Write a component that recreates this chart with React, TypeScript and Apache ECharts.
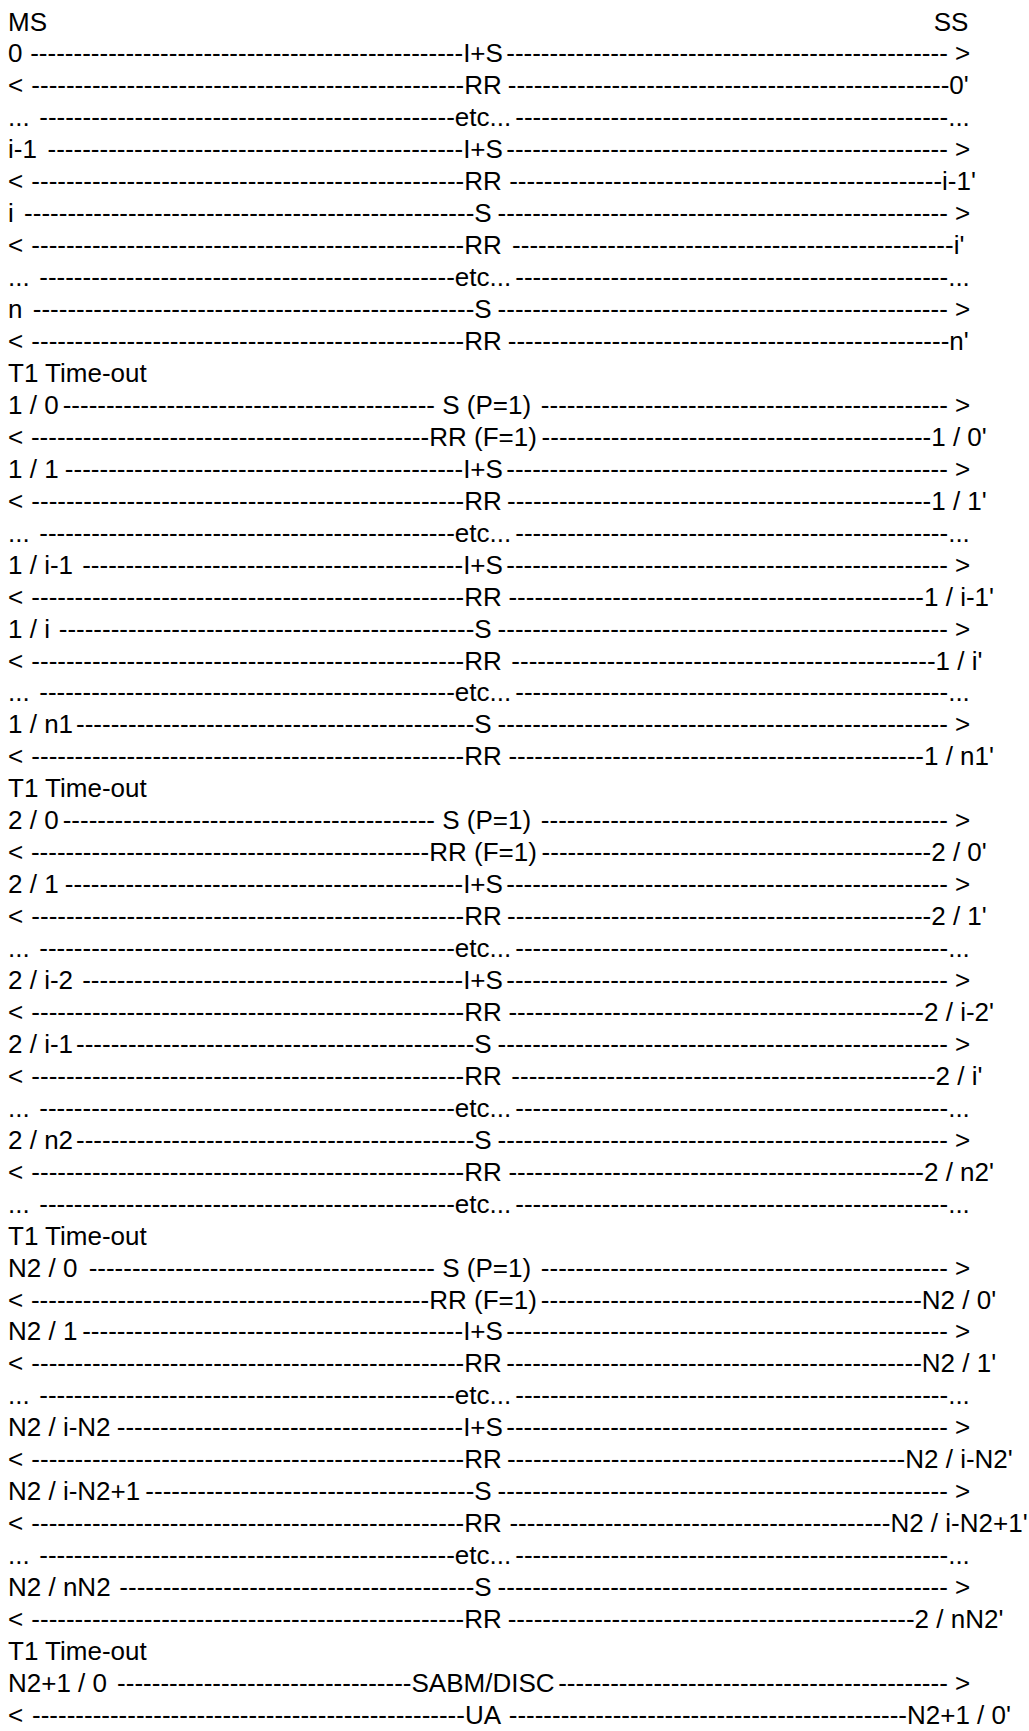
import React, { useEffect, useRef } from "react";
import * as echarts from "echarts";

// Row texts of the sequence diagram (MS on the left, SS on the right)
const leftLabels: string[] = [
  "MS", "0", "<", "...", "i-1", "<", "i", "<", "...", "n", "<",
  "T1 Time-out", "1 / 0", "<", "1 / 1", "<", "...", "1 / i-1", "<", "1 / i", "<", "...", "1 / n1", "<",
  "T1 Time-out", "2 / 0", "<", "2 / 1", "<", "...", "2 / i-2", "<", "2 / i-1", "<", "...", "2 / n2", "<", "...",
  "T1 Time-out", "N2 / 0", "<", "N2 / 1", "<", "...", "N2 / i-N2", "<", "N2 / i-N2+1", "<", "...", "N2 / nN2", "<",
  "T1 Time-out", "N2+1 / 0", "<",
];

const centerLabels: string[] = [
  "", "I+S", "RR", "etc...", "I+S", "RR", "S", "RR", "etc...", "S", "RR",
  "", " S (P=1)", "RR (F=1)", "I+S", "RR", "etc...", "I+S", "RR", "S", "RR", "etc...", "S", "RR",
  "", " S (P=1)", "RR (F=1)", "I+S", "RR", "etc...", "I+S", "RR", "S", "RR", "etc...", "S", "RR", "etc...",
  "", " S (P=1)", "RR (F=1)", "I+S", "RR", "etc...", "I+S", "RR", "S", "RR", "etc...", "S", "RR",
  "", "SABM/DISC", "UA",
];

const rightLabels: string[] = [
  "SS", " >", "0'", "...", " >", "i-1'", " >", "i'", "...", " >", "n'",
  "", " >", "1 / 0'", " >", "1 / 1'", "...", " >", "1 / i-1'", " >", "1 / i'", "...", " >", "1 / n1'",
  "", " >", "2 / 0'", " >", "2 / 1'", "...", " >", "2 / i-2'", " >", "2 / i'", "...", " >", "2 / n2'", "...",
  "", " >", "N2 / 0'", " >", "N2 / 1'", "...", " >", "N2 / i-N2'", " >", "N2 / i-N2+1'", "...", " >", "2 / nN2'",
  "", " >", "N2+1 / 0'",
];

// layout
const FONT_SIZE = 26;
const FONT_FAMILY = "'Liberation Sans', Arial, Helvetica, sans-serif";
const ROW_H = 31.95;
const TOP = 21.5;
const LEFT_X = 8;
const CENTER_X = 483;
const RIGHT_X = 959;
const HEADER_RIGHT_X = 951;
const MIN_GAP = 3;

export default function App() {
  const ref = useRef<HTMLDivElement>(null);
  useEffect(() => {
    const el = ref.current as HTMLDivElement;
    const chart = echarts.init(el, null, { renderer: "svg" });
    const canvas = document.createElement("canvas");
    const ctx = canvas.getContext("2d") as CanvasRenderingContext2D;
    ctx.font = `${FONT_SIZE}px ${FONT_FAMILY}`;
    const w = (s: string) => ctx.measureText(s).width;
    const dashW = w("-");
    const elements: any[] = [];
    const txt = (x: number, y: number, text: string, align: string = "left") => {
      elements.push({
        type: "text",
        x,
        y,
        silent: true,
        style: {
          text,
          fill: "#000",
          fontSize: FONT_SIZE,
          fontFamily: FONT_FAMILY,
          align,
          verticalAlign: "middle",
          textAlign: align,
          textVerticalAlign: "middle",
        },
      });
    };
    // draws a label starting at x; leading spaces shift the visible text
    const label = (x: number, y: number, s: string) => {
      const trimmed = s.replace(/^\s+/, "");
      const lead = s.length - trimmed.length;
      txt(x + (lead ? w(" ".repeat(lead)) : 0), y, trimmed);
    };
    const dashes = (a: number, b: number, y: number) => {
      const n = Math.floor((b - a) / dashW);
      if (n > 0) txt(b - n * dashW, y, "-".repeat(n));
    };

    leftLabels.forEach((left, i) => {
      const y = TOP + i * ROW_H;
      const center = centerLabels[i];
      const right = rightLabels[i];
      if (left) txt(LEFT_X, y, left);
      const leftEnd = LEFT_X + (left ? w(left) : 0);
      if (!center) {
        if (right) txt(HEADER_RIGHT_X, y, right, "center");
        return;
      }
      const cw = w(center);
      const cStart = CENTER_X - cw / 2;
      const cEnd = cStart + cw;
      label(cStart, y, center);
      const rw = w(right);
      const rStart = RIGHT_X - rw / 2;
      label(rStart, y, right);
      dashes(leftEnd + MIN_GAP, cStart, y);
      dashes(cEnd + MIN_GAP, rStart, y);
    });

    chart.setOption({
      animation: false,
      backgroundColor: "#ffffff",
      graphic: { elements },
    });
    return () => {
      chart.dispose();
    };
  }, []);
  return (
    <div
      ref={ref}
      style={{ position: "absolute", left: 0, top: 0, width: 1029, height: 1731, background: "#fff" }}
    />
  );
}
